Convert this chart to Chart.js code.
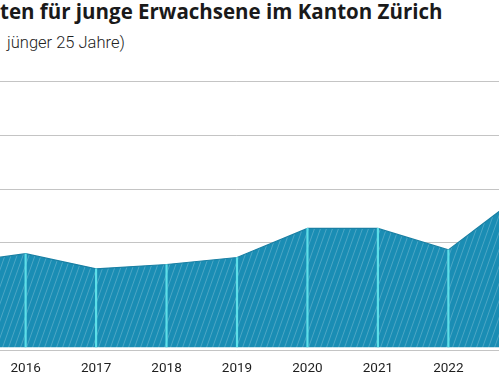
<!DOCTYPE html>
<html lang="de">
<head>
  <meta charset="UTF-8">
  <title>Junge Erwachsene im Kanton Zürich</title>
  <style>
    body { margin: 0; background: #fff; width: 499px; height: 376px; overflow: hidden; position: relative; font-family: Roboto, 'Noto Sans', Arial, sans-serif; }
    #titel { position: absolute; left: 0px; top: -3px; font-family: 'Open Sans', Roboto, sans-serif; font-size: 20.5px; font-weight: 700; color: #1a1a1a; white-space: nowrap; letter-spacing: 0px; }
    #untertitel { position: absolute; left: 7px; top: 33px; font-size: 16.5px; font-weight: 300; color: #222; white-space: nowrap; }
    #box { position: absolute; left: -70px; top: 60px; width: 614px; height: 328px; }
  </style>
</head>
<body>
  <div id="titel">ten für junge Erwachsene im Kanton Zürich</div>
  <div id="untertitel">jünger 25 Jahre)</div>
  <div id="box"><canvas id="grafik"></canvas></div>
  <script src="https://cdn.jsdelivr.net/npm/chart.js"></script>
  <script>
    // Jahre und Werte
    const JAHRE = ['2015','2016','2017','2018','2019','2020','2021','2022','2023'];
    const WERTE = [1.62, 1.80, 1.52, 1.60, 1.73, 2.27, 2.27, 1.87, 2.86];
    const Y_TICKS = [0, 1, 2, 3, 4, 5];

    // Schraffur für die Fläche
    function schraffur() {
      const w = 6, h = 17;
      const c = document.createElement('canvas');
      c.width = w; c.height = h;
      const g = c.getContext('2d');
      g.fillStyle = '#1a8db4';
      g.fillRect(0, 0, w, h);
      g.strokeStyle = 'rgba(255,255,255,0.22)';
      g.lineWidth = 1;
      [-w, 0, w].forEach(dx => {
        g.beginPath();
        g.moveTo(dx, h);
        g.lineTo(dx + w, 0);
        g.stroke();
      });
      return g.createPattern(c, 'repeat');
    }

    new Chart(document.getElementById('grafik').getContext('2d'), {
      data: {
        labels: JAHRE,
        datasets: [
          { type: 'bar', data: WERTE, backgroundColor: '#5cdfe8', barThickness: 1.5, order: 0,
            clip: { left: 0, top: 0, right: 0, bottom: -3.5 } },
          { type: 'line', data: WERTE, fill: 'origin', backgroundColor: schraffur(), borderColor: '#1a80a4',
            borderWidth: 1.2, pointRadius: 0, tension: 0, order: 1,
            clip: { left: 0, top: 0, right: 0, bottom: -3.5 } }
        ]
      },
      options: {
        responsive: true, maintainAspectRatio: false, animation: false,
        layout: { padding: { left: 23.7, right: 23.7, top: 21.3, bottom: 1.1 } },
        plugins: { legend: { display: false }, tooltip: { enabled: false } },
        scales: {
          x: { offset: false, grid: { display: false, drawTicks: false }, border: { display: false },
               ticks: { color: '#1e1e1e', font: { family: 'Roboto', size: 13.5 }, padding: 10, maxRotation: 0, autoSkip: false } },
          y: { min: 0, max: 5, afterBuildTicks: s => { s.ticks = Y_TICKS.map(v => ({ value: v })); },
               grid: { color: '#c4c4c4', lineWidth: 1, drawTicks: false }, border: { display: false },
               ticks: { display: false } }
        }
      }
    });
  </script>
</body>
</html>
